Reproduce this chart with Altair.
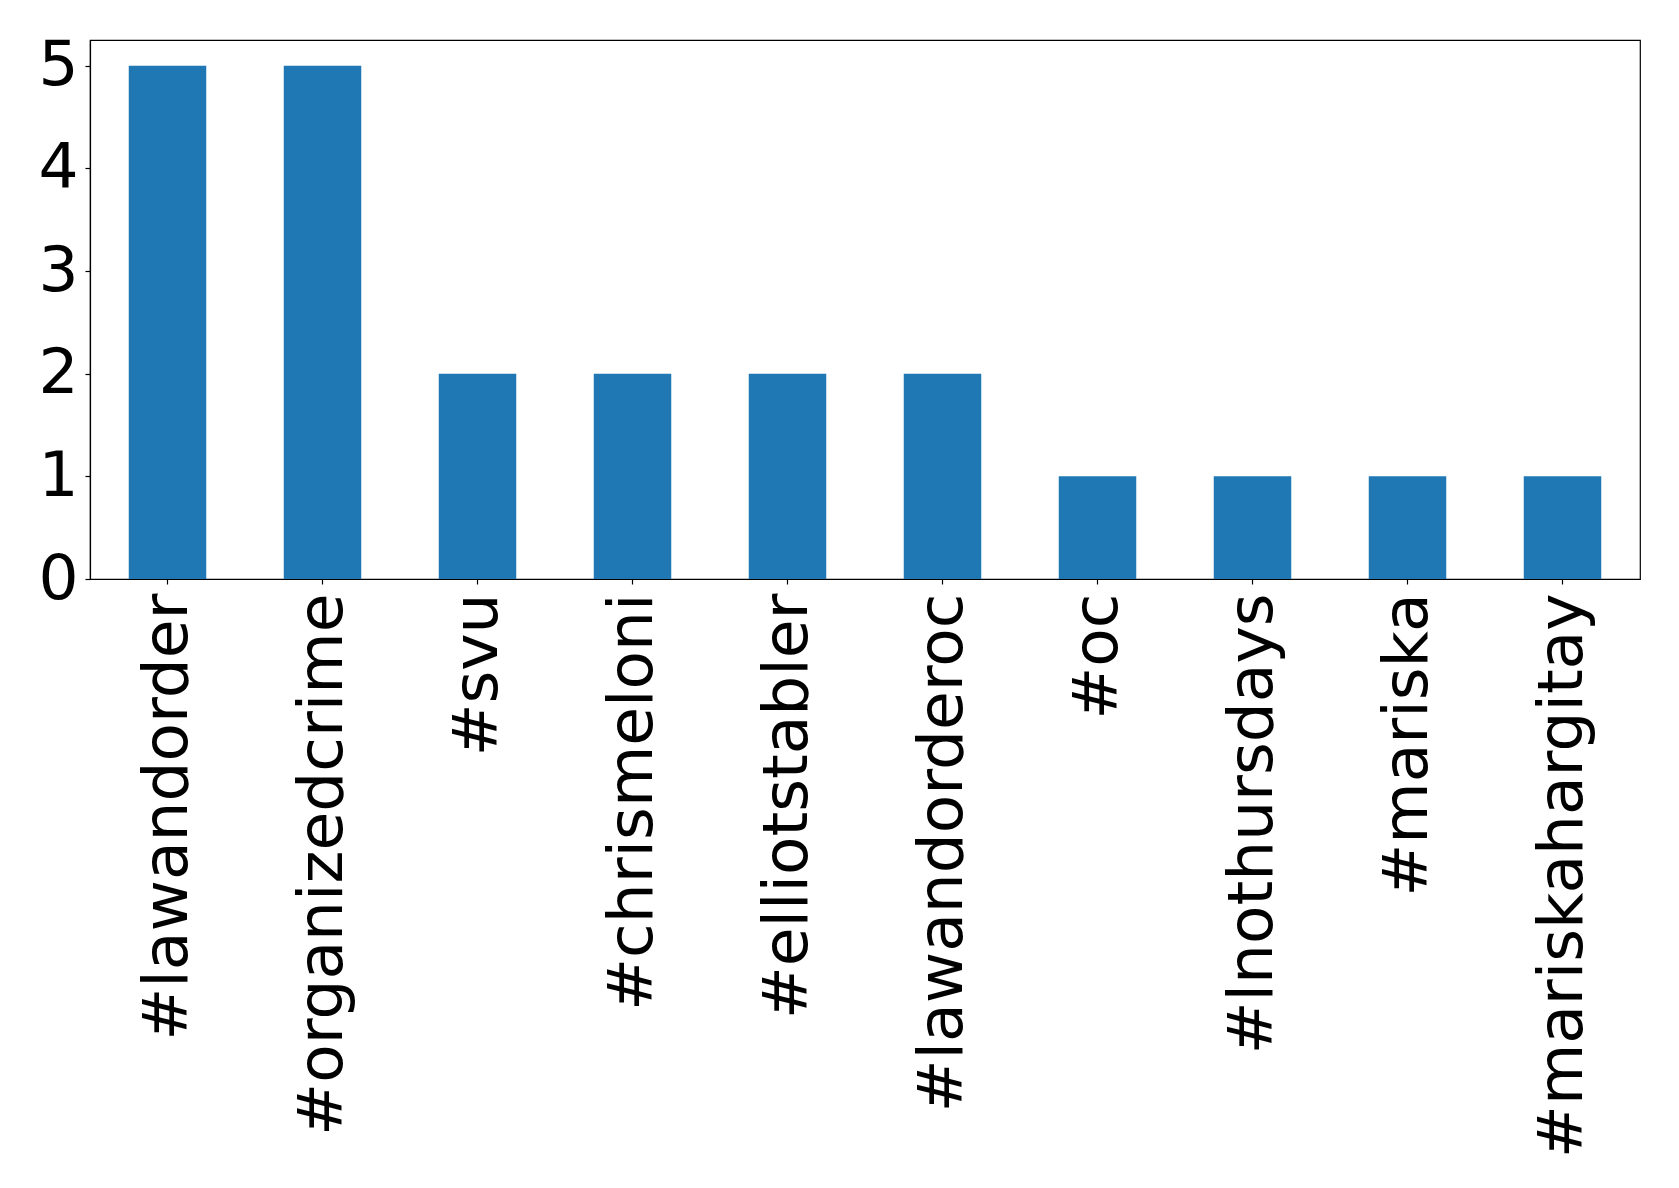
import altair as alt
import pandas as pd

hashtags = ["#lawandorder", "#organizedcrime", "#svu", "#chrismeloni",
            "#elliotstabler", "#lawandorderoc", "#oc", "#lnothursdays",
            "#mariska", "#mariskahargitay"]
counts = [5, 5, 2, 2, 2, 2, 1, 1, 1, 1]

df = pd.DataFrame({"tag": hashtags, "count": counts})

FONT = "DejaVu Sans"
FS = 63

chart = alt.Chart(df).mark_bar(color="#1f77b4").encode(
    x=alt.X("tag:N", sort=None, title=None,
            scale=alt.Scale(paddingInner=0.5, paddingOuter=0.25),
            axis=alt.Axis(labelAngle=270, labelFont=FONT, labelFontSize=FS,
                          labelColor="black", tickColor="black", domainColor="black",
                          tickSize=5, labelPadding=9, labelAlign="right",
                          labelBaseline="middle", labelLimit=0, grid=False)),
    y=alt.Y("count:Q", title=None,
            scale=alt.Scale(domain=[0, 5.25], nice=False, zero=True),
            axis=alt.Axis(values=[0, 1, 2, 3, 4, 5], labelFont=FONT, labelFontSize=FS,
                          labelColor="black", tickColor="black", domainColor="black",
                          tickSize=5, labelPadding=7, grid=False, labelFlush=False,
                          labelOverlap=False)),
).properties(
    width=1550,
    height=539,
    padding={"left": 82, "top": 32, "right": 25, "bottom": 595},
    autosize=alt.AutoSizeParams(type="none"),
).configure_view(
    stroke="black", strokeWidth=1.2
).configure_axis(
    domainWidth=1.2, tickWidth=1.2
)

chart.save("out.html", embed_options={"renderer": "svg", "actions": False})
